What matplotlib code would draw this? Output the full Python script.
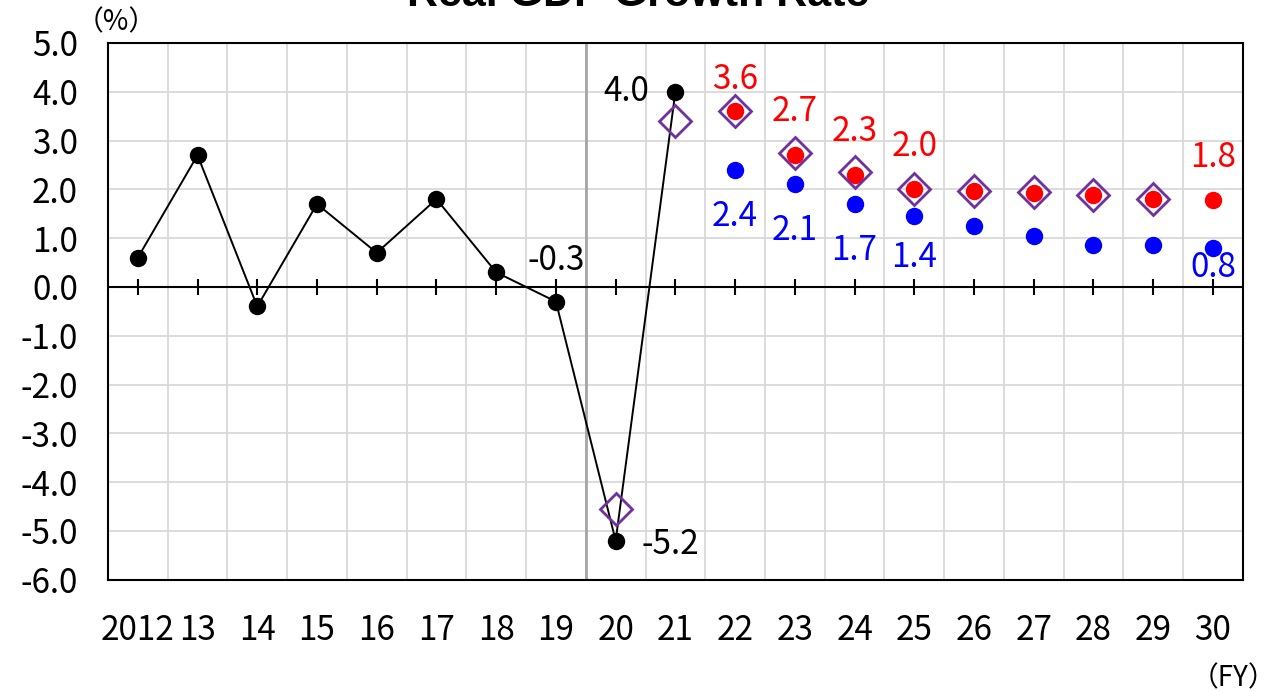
import matplotlib

matplotlib.use('Agg')
import matplotlib.pyplot as plt
import numpy as np

plt.rcParams['font.family'] = ['Noto Sans CJK JP', 'DejaVu Sans']

# 年度ラベル
years = ['2012', '13', '14', '15', '16', '17', '18', '19', '20', '21',
         '22', '23', '24', '25', '26', '27', '28', '29', '30']
# 実績 (2012-2021)
actual = [0.6, 2.7, -0.4, 1.7, 0.7, 1.8, 0.3, -0.3, -5.2, 4.0]
# 旧見通し (2020-2029)
prev = [-4.55, 3.4, 3.6, 2.75, 2.35, 2.0, 1.97, 1.94, 1.88, 1.8]
# 成長実現ケース (2022-2030)
high = [3.6, 2.7, 2.3, 2.0, 1.97, 1.92, 1.88, 1.8, 1.78]
# ベースラインケース (2022-2030)
base = [2.4, 2.1, 1.7, 1.45, 1.25, 1.05, 0.87, 0.86, 0.8]

x = np.arange(len(years))
x_act = x[:len(actual)]
x_prev = x[8:8 + len(prev)]
x_fc = x[10:]

px = 1 / 1.389  # pixel -> point

fig = plt.figure(figsize=(12.76, 6.91), dpi=100)
ax = fig.add_axes([0.0846, 0.161, 0.8894, 0.7768])

ax.set_xlim(-0.5, len(years) - 0.5)
ax.set_ylim(-6, 5)

# grid
ax.set_yticks(np.arange(-6, 6, 1))
ax.set_yticklabels(['%.1f' % v for v in np.arange(-6, 6, 1)])
ax.set_xticks(x)
ax.set_xticklabels(years)
ax.set_xticks(x[:-1] + 0.5, minor=True)
ax.grid(True, axis='y', which='major', color='#d9d9d9', lw=1.3)
ax.grid(True, axis='x', which='minor', color='#d9d9d9', lw=1.3)
ax.tick_params(axis='both', which='both', length=0, labelsize=24)
ax.tick_params(axis='x', pad=24)
ax.tick_params(axis='y', pad=30 * px)
for s in ax.spines.values():
    s.set_linewidth(1.5)
    s.set_color('black')
ax.set_axisbelow(True)

# 2019/2020 の区切り線
ax.axvline(7.5, color='#a6a6a6', lw=2, zorder=1)
# ゼロ線と目盛り
ax.axhline(0, color='black', lw=1.5, zorder=2)
ax.plot(x, np.zeros(len(x)), ls='none', marker='|', markersize=16 * px,
        mew=1.5, color='black', zorder=2)

ax.plot(x_act, actual, color='black', lw=1.4, marker='o', markersize=16 * px, zorder=4)
ax.plot(x_fc, high, ls='none', marker='o', color='red', markersize=16 * px, zorder=3)
ax.plot(x_fc, base, ls='none', marker='o', color='blue', markersize=16 * px, zorder=3)
ax.plot(x_prev, prev, ls='none', marker='D', markersize=23 * px, mfc='none',
        mec='#7030A0', mew=2, zorder=5)

fs = 24
# 実績ラベル
ax.annotate('%.1f' % actual[9], (x_act[9], actual[9]), xytext=(-26 * px, 0),
            textcoords='offset points', ha='right', va='center', fontsize=fs)
ax.annotate('%.1f' % actual[7], (x_act[7], actual[7]), xytext=(0, 41 * px),
            textcoords='offset points', ha='center', va='center', fontsize=fs)
ax.annotate('%.1f' % actual[8], (x_act[8], actual[8]), xytext=(26 * px, -4 * px),
            textcoords='offset points', ha='left', va='center', fontsize=fs)

# 見通しラベル
high_off = [32, 44, 43, 43, None, None, None, None, 43]
base_off = [47, 46, 46, 41, None, None, None, None, 20]
for i in range(len(x_fc)):
    if high_off[i] is not None:
        ax.annotate('%.1f' % high[i], (x_fc[i], high[i]), xytext=(0, high_off[i] * px),
                    textcoords='offset points', ha='center', va='center',
                    fontsize=fs, color='red')
    if base_off[i] is not None:
        ax.annotate('%.1f' % base[i], (x_fc[i], base[i]), xytext=(0, -base_off[i] * px),
                    textcoords='offset points', ha='center', va='center',
                    fontsize=fs, color='blue')

fig.text(0.5, 1 - 6 / 691, 'Real GDP Growth Rate', ha='center', va='baseline',
         fontsize=31, fontweight='bold', family=['Liberation Sans', 'DejaVu Sans'])
fig.text(116 / 1276, 1 - 22 / 691, '（%）', ha='center', va='center', fontsize=20)
fig.text(1276 / 1276, 1 - 678 / 691, '（FY）', ha='right', va='center', fontsize=20)

fig.savefig('out.png', dpi=100)
